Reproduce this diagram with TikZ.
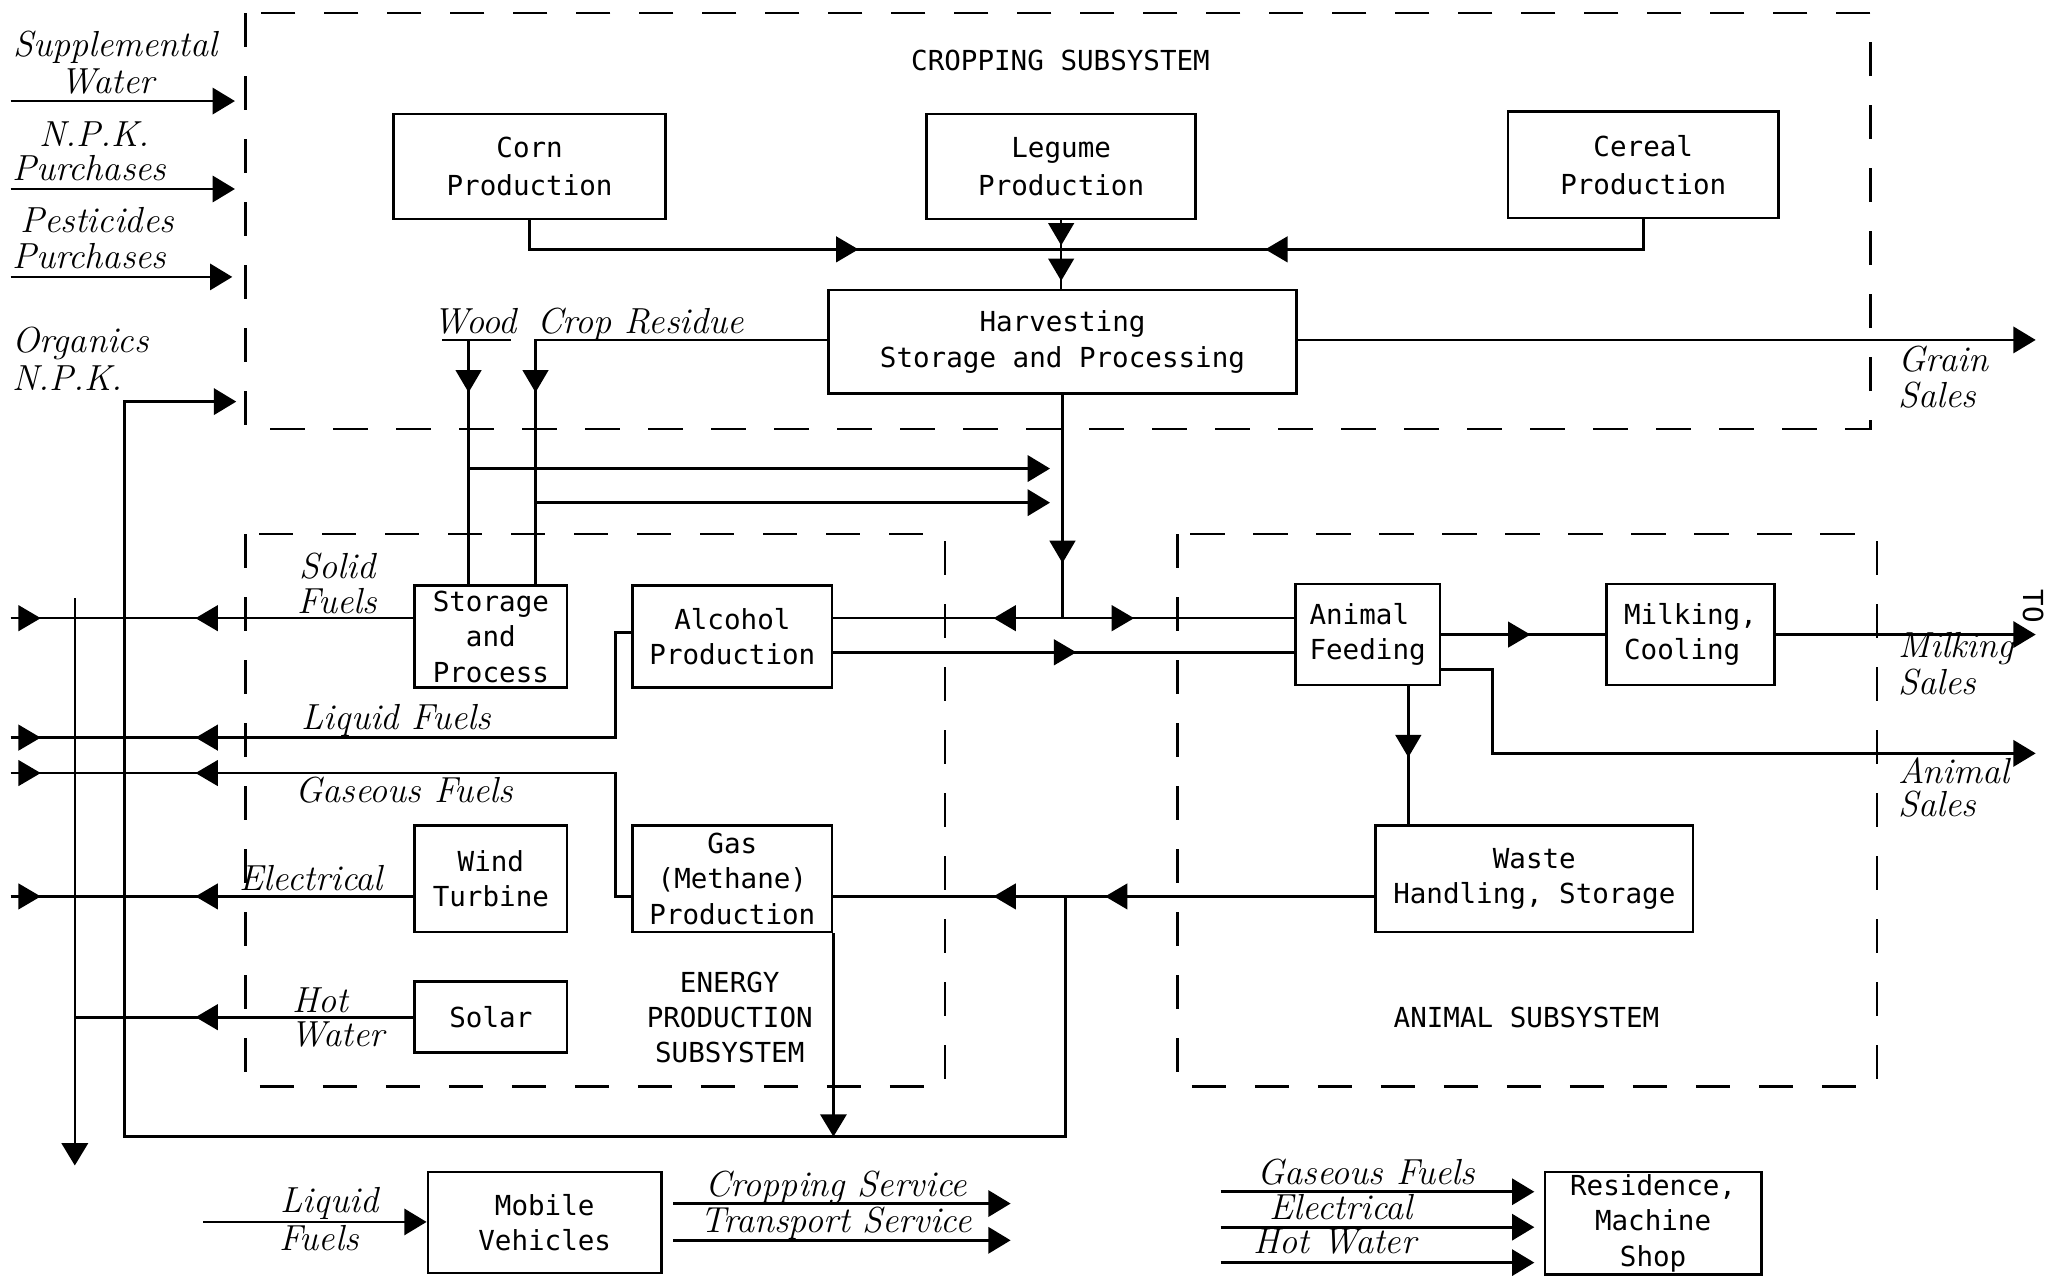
\documentclass[tikz,border=0pt]{standalone}
\usepackage{fontspec}
\newfontfamily\mono{DejaVu Sans Mono}
\usetikzlibrary{arrows.meta,calc}
\begin{document}
\begin{tikzpicture}[x=0.5pt,y=-0.5pt,
  ln/.style={line width=1pt},
  bx/.style={draw,line width=1pt,inner sep=0pt,align=center,font=\mono\fontsize{10.5}{13.5}\selectfont},
  bxw/.style={font=\mono\fontsize{10.5}{14.5}\selectfont},
  sz/.style 2 args={minimum width=#1*0.5pt,minimum height=#2*0.5pt},
  dsh/.style={line width=1pt,dash pattern=on 13pt off 11pt},
  hw/.style={font=\fontsize{13.8}{15}\selectfont\itshape,inner sep=0pt},
  ttl/.style={font=\mono\fontsize{10.5}{13.25}\selectfont,align=center,inner sep=0pt},
  >={Triangle[length=8.5pt,width=10pt]},
  ah/.pic={\fill (9,0) -- (-8,10) -- (-8,-10) -- cycle;}
]
\useasboundingbox (0,0) rectangle (1568,972);

% ---------- subsystem frames ----------
\draw[dsh] (187,10) rectangle (1425,327);
\draw[dsh] (187,407) rectangle (720,828);
\draw[dsh] (897,407) rectangle (1430,828);
\node[ttl] (tcrop) at (808,46) {CROPPING SUBSYSTEM};
\node[ttl] (tenergy) at (556,775) {ENERGY\\PRODUCTION\\SUBSYSTEM};
\node[ttl] (tanimal) at (1163,775) {ANIMAL SUBSYSTEM};

% ---------- boxes ----------
\node[bx,bxw,sz={207}{80}] (corn) at (403.5,127) {Corn\\Production};
\node[bx,bxw,sz={205}{80}] (legume) at (808.5,127) {Legume\\Production};
\node[bx,bxw,sz={206}{81}] (cereal) at (1252,125.5) {Cereal\\Production};
\node[bx,font=\mono\fontsize{10.5}{14}\selectfont,sz={357}{79}] (harv) at (809.5,260.5) {Harvesting\\Storage and Processing};
\node[bx,sz={116}{78}] (store) at (374,485) {Storage\\and\\Process};
\node[bx,sz={152}{78}] (alcohol) at (558,485) {Alcohol\\Production};
\node[bx,sz={116}{81}] (wind) at (374,669.5) {Wind\\Turbine};
\node[bx,sz={152}{81}] (gas) at (558,669.5) {Gas\\(Methane)\\Production};
\node[bx,sz={116}{54}] (solar) at (374,775) {Solar};
\node[bx,align=left,sz={110}{77}] (feed) at (1042,483.5) {Animal\\Feeding};
\node[bx,align=left,sz={128}{77}] (milk) at (1288,483.5) {Milking,\\Cooling};
\node[bx,sz={242}{81}] (waste) at (1169,669.5) {Waste\\Handling, Storage};
\node[bx,sz={178}{77}] (mobile) at (415,931.5) {Mobile\\Vehicles};
\node[bx,sz={165}{78}] (resid) at (1259.5,932) {Residence,\\Machine\\Shop};

% ---------- handwritten labels ----------
\node[hw] (lsup) at (88,36) {Supplemental};
\node[hw] (lwat) at (82,62) {Water};
\node[hw] (lnpk) at (72,102) {N.P.K.};
\node[hw] (lpur1) at (68,128) {Purchases};
\node[hw] (lpest) at (74,168) {Pesticides};
\node[hw] (lpur2) at (68,195) {Purchases};
\node[hw,anchor=west] (lorg) at (9,262) {Organics};
\node[hw,anchor=west] (lnpk2) at (9,288) {N.P.K.};
\node[hw] (wood) at (362,245) {Wood};
\node[hw] (lcrop) at (488,247) {Crop Residue};
\node[hw,anchor=west] (lgrain) at (1446,274) {Grain};
\node[hw,anchor=west] (lgsales) at (1446,301) {Sales};
\node[hw] (lsolid) at (257,431) {Solid};
\node[hw] (lsfuels) at (257,458) {Fuels};
\node[hw] (lliq) at (302,549) {Liquid Fuels};
\node[hw] (lgas) at (308,602) {Gaseous Fuels};
\node[hw] (lelec) at (237,669) {Electrical};
\node[hw] (lhot) at (244,762) {Hot};
\node[hw] (lhwat) at (257,788) {Water};
\node[hw,anchor=west] (lmilk) at (1446,494) {Milking};
\node[hw,anchor=west] (lmsales) at (1446,520) {Sales};
\node[hw,anchor=west] (lanim) at (1446,587) {Animal};
\node[hw,anchor=west] (lasales) at (1446,613) {Sales};
\node[hw] (lliq2) at (251,917) {Liquid};
\node[hw] (lfuel2) at (243,943) {Fuels};
\node[hw] (lcs) at (637,905) {Cropping Service};
\node[hw] (lts) at (637,932) {Transport Service};
\node[hw] (lrg) at (1041,893) {Gaseous Fuels};
\node[hw] (lre) at (1022,920) {Electrical};
\node[hw] (lrh) at (1017,946) {Hot Water};
\node[ttl,rotate=-90] (lto) at (1549,462) {TO};

% ---------- purchased inputs ----------
\coordinate (i1a) at (8,77);  \coordinate (i1b) at (179,77);
\coordinate (i2a) at (8,144); \coordinate (i2b) at (179,144);
\coordinate (i3a) at (8,211); \coordinate (i3b) at (177,211);
\draw[ln,->] (i1a) -- (i1b);
\draw[ln,->] (i2a) -- (i2b);
\draw[ln,->] (i3a) -- (i3b);

% ---------- cropping flows ----------
\coordinate (cj) at (808.5,190);
\draw[ln] (corn.south) |- (cj);
\draw[ln] (cereal.south) |- (cj);
\draw[ln] (legume.south) -- (legume.south |- harv.north);
\pic at (645,190) {ah};
\pic[rotate=180] at (973,190) {ah};
\pic[rotate=-90] at (808.5,178) {ah};
\pic[rotate=-90] at (808.5,205) {ah};

% wood and crop residue
\coordinate (wu1) at (337,259); \coordinate (wu2) at (389,259);
\draw[ln] (wu1) -- (wu2);
\coordinate (wd) at (357,259);
\draw[ln] (wd) -- (wd |- store.north);
\pic[rotate=-90] at (357,290) {ah};
\coordinate (cr) at (408,259);
\draw[ln] (cr -| harv.west) -- (cr) -- (cr |- store.north);
\pic[rotate=-90] at (408,290) {ah};
\coordinate (w2) at (357,357); \coordinate (w2e) at (800,357);
\draw[ln,->] (w2) -- (w2e);
\coordinate (c2) at (408,383); \coordinate (c2e) at (800,383);
\draw[ln,->] (c2) -- (c2e);

% harvesting outputs
\coordinate (hj) at (809.5,471);
\draw[ln] (harv.south) -- (hj);
\pic[rotate=-90] at (809.5,420) {ah};
\draw[ln] (hj -| alcohol.east) -- (hj -| feed.west);
\pic[rotate=180] at (766,471) {ah};
\pic at (855,471) {ah};
\coordinate (ab) at (700,497);
\draw[ln] (ab -| alcohol.east) -- (ab -| feed.west);
\pic at (811,497) {ah};
\coordinate (gsl) at (1551,259);
\draw[ln,->] (gsl -| harv.east) -- (gsl);

% ---------- energy outputs ----------
\coordinate (Ls) at (8,471);
\draw[ln] (Ls) -- (Ls -| store.west);
\coordinate (Ll) at (8,562); \coordinate (kl) at (469,482);
\draw[ln] (Ll) -| (kl) -- (kl -| alcohol.west);
\coordinate (Lg) at (8,589); \coordinate (kg) at (469,683);
\draw[ln] (Lg) -| (kg) -- (kg -| gas.west);
\coordinate (Le) at (8,683);
\draw[ln] (Le) -- (Le -| wind.west);
\coordinate (Lh) at (57,775);
\draw[ln] (Lh) -- (Lh -| solar.west);
\coordinate (Vt) at (57,456); \coordinate (Vb) at (57,888);
\draw[ln,->] (Vt) -- (Vb);
\foreach \y in {471,562,589,683,775} {\pic[rotate=180] at (158,\y) {ah};}
\foreach \y in {471,562,589,683} {\pic at (22,\y) {ah};}

% ---------- animal flows ----------
\draw[ln] (feed.east) -- (milk.west);
\pic at (1157,483.5) {ah};
\coordinate (msl) at (1551,483.5);
\draw[ln,->] (milk.east) -- (msl);
\coordinate (fa) at (1137,510); \coordinate (asl) at (1551,574);
\draw[ln,->] (fa -| feed.east) -- (fa) |- (asl);
\coordinate (fw) at (1073,522);
\draw[ln] (fw) -- (fw |- waste.north);
\pic[rotate=-90] at (1073,568) {ah};

% waste to gas, and return loop
\coordinate (gw) at (812,683);
\draw[ln] (gw -| waste.west) -- (gw -| gas.east);
\pic[rotate=180] at (851,683) {ah};
\pic[rotate=180] at (766,683) {ah};
\coordinate (bl) at (95,866); \coordinate (org) at (180,306);
\draw[ln,->] (gw) |- (bl) |- (org);
\draw[ln,->] (gas.south east) -- (gas.south east |- bl);

% ---------- bottom ----------
\coordinate (lfl) at (155,931);
\draw[ln,->] (lfl) -- (lfl -| mobile.west);
\coordinate (cs) at (770,917); \coordinate (ts) at (770,945);
\draw[ln,->,shorten <=4pt] (cs -| mobile.east) -- (cs);
\draw[ln,->,shorten <=4pt] (ts -| mobile.east) -- (ts);
\coordinate (r1) at (930,908); \coordinate (r2) at (930,935); \coordinate (r3) at (930,962);
\draw[ln,->,shorten >=3.5pt] (r1) -- (r1 -| resid.west);
\draw[ln,->,shorten >=3.5pt] (r2) -- (r2 -| resid.west);
\draw[ln,->,shorten >=3.5pt] (r3) -- (r3 -| resid.west);
\end{tikzpicture}
\end{document}
